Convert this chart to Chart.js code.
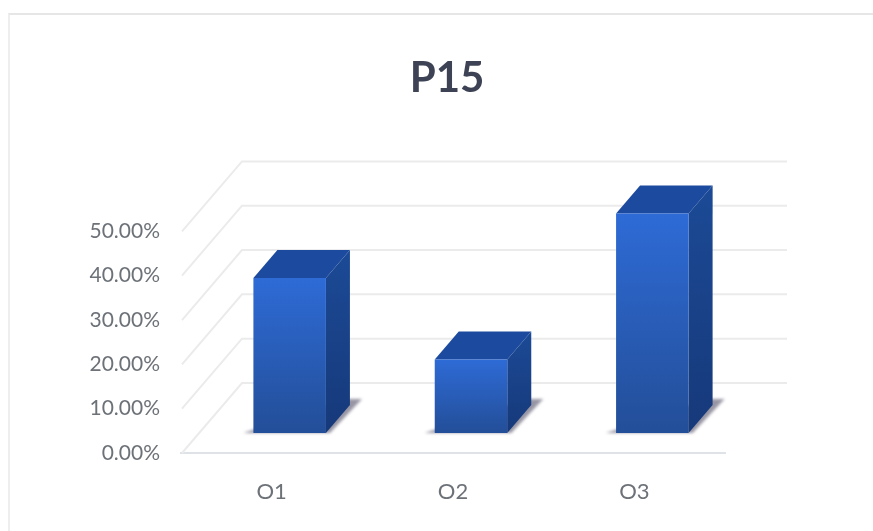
<!DOCTYPE html>
<html>
<head>
<meta charset="utf-8">
<title>P15</title>
<script src="https://cdn.jsdelivr.net/npm/chart.js@4/dist/chart.umd.min.js"></script>
<style>
    html, body { margin: 0; background: #fff; }
    #frame { position: absolute; left: 8px; top: 13px; width: 865px; height: 518px;
             border-top: 2px solid #e6e6e6; border-left: 2px solid #eeeeee; box-sizing: border-box; }
    #chart { position: absolute; left: 0; top: 0; }
</style>
</head>
<body>
<div id="frame"></div>
<canvas id="chart" width="873" height="531"></canvas>
<script>
const categories = ['O1', 'O2', 'O3'];
const values = [35, 16.6, 49.5];
const yTickValues = [0, 10, 20, 30, 40, 50];
const yTickLabels = ['0.00%', '10.00%', '20.00%', '30.00%', '40.00%', '50.00%'];

const LABEL_FONT = 'Lato, "Liberation Sans", sans-serif';

// 3d look: how far the back wall and the bars sit from the front axis
const wall = {dx: 61, dy: -70};
const barShift = {dx: 18, dy: -20};
const depth = {dx: 24, dy: -28};

function poly(ctx, pts, fill) {
    ctx.beginPath();
    pts.forEach((p, i) => i ? ctx.lineTo(p[0], p[1]) : ctx.moveTo(p[0], p[1]));
    ctx.closePath();
    ctx.fillStyle = fill;
    ctx.fill();
}

function vGradient(ctx, top, bottom, c1, c2) {
    const g = ctx.createLinearGradient(0, top, 0, bottom);
    g.addColorStop(0, c1);
    g.addColorStop(1, c2);
    return g;
}

const wallPlugin = {
    id: 'wall',
    beforeDatasetsDraw(chart) {
        const {ctx, scales: {x, y}} = chart;
        ctx.save();
        ctx.lineWidth = 2;
        ctx.filter = 'blur(0.5px)';
        yTickValues.forEach(v => {
            const py = y.getPixelForValue(v);
            ctx.strokeStyle = '#ebebeb';
            // floor / side diagonal
            ctx.beginPath();
            ctx.moveTo(x.left + 1, py);
            ctx.lineTo(x.left + wall.dx, py + wall.dy);
            // back wall line
            ctx.lineTo(x.right + wall.dx + 1, py + wall.dy);
            ctx.stroke();
        });
        ctx.restore();
    }
};

const bar3dPlugin = {
    id: 'bar3d',
    beforeDatasetDraw(chart) {
        const {ctx} = chart;
        const meta = chart.getDatasetMeta(0);
        ctx.save();
        ctx.translate(barShift.dx, barShift.dy);

        // floor shadow
        ctx.save();
        ctx.filter = 'blur(1.5px)';
        meta.data.forEach(bar => {
            const p = bar.getProps(['x', 'y', 'base', 'width'], true);
            const r = p.x + p.width / 2, l = p.x - p.width / 2;
            poly(ctx, [[l - 10, p.base], [r + 4, p.base],
                       [r + depth.dx + 12, p.base + depth.dy - 6], [r + depth.dx - 4, p.base + depth.dy - 6]],
                 'rgba(125,122,140,0.8)');
        });
        ctx.restore();

        // top and side faces go under the front face
        meta.data.forEach(bar => {
            const p = bar.getProps(['x', 'y', 'base', 'width'], true);
            const r = p.x + p.width / 2, l = p.x - p.width / 2;
            poly(ctx, [[l, p.y], [r, p.y], [r + depth.dx, p.y + depth.dy], [l + depth.dx, p.y + depth.dy]],
                 '#1c4a9e');
            poly(ctx, [[r, p.y], [r + depth.dx, p.y + depth.dy],
                       [r + depth.dx, p.base + depth.dy], [r, p.base]],
                 vGradient(ctx, p.y + depth.dy, p.base, '#1c4a96', '#16397a'));
        });
    },
    afterDatasetDraw(chart) {
        chart.ctx.restore();
    }
};

new Chart(document.getElementById('chart'), {
    type: 'bar',
    data: {
        labels: categories,
        datasets: [{
            data: values,
            clip: false,
            categoryPercentage: 1,
            barPercentage: 0.4,
            backgroundColor: (c) => {
                const {chart, parsed} = c;
                if (!chart.chartArea || !parsed) return '#2a5cb5';
                const y = chart.scales.y;
                return vGradient(chart.ctx, y.getPixelForValue(parsed.y), y.getPixelForValue(0), '#2e6bd6', '#234e98');
            }
        }]
    },
    options: {
        responsive: false,
        animation: false,
        layout: {padding: {left: 21, right: 0, top: 0, bottom: 0}},
        plugins: {
            legend: {display: false},
            tooltip: {enabled: false},
            title: {
                display: true,
                text: 'P15',
                color: '#3d4355',
                font: {family: LABEL_FONT, size: 42, weight: 'bold'},
                padding: {top: 53, bottom: 128}
            }
        },
        scales: {
            x: {
                grid: {display: false, drawTicks: false},
                border: {display: true, color: '#dfe3e8', width: 2},
                ticks: {color: '#6d7278', font: {family: LABEL_FONT, size: 22}, padding: 26},
                afterFit: (s) => { s.height = 78; }
            },
            y: {
                min: 0,
                max: 50,
                afterBuildTicks: (s) => { s.ticks = yTickValues.map(v => ({value: v})); },
                grid: {display: false, drawTicks: false},
                border: {display: false},
                ticks: {
                    color: '#6d7278',
                    font: {family: LABEL_FONT, size: 21},
                    padding: 21,
                    callback: (v) => yTickLabels[yTickValues.indexOf(v)]
                },
                afterFit: (s) => { s.width = 160; }
            },
            // empty axis, only holds the plot away from the right edge
            spacer: {
                position: 'right',
                grid: {display: false, drawTicks: false},
                border: {display: false},
                ticks: {display: false},
                afterFit: (s) => { s.width = 148; }
            }
        }
    },
    plugins: [wallPlugin, bar3dPlugin]
});
</script>
</body>
</html>
